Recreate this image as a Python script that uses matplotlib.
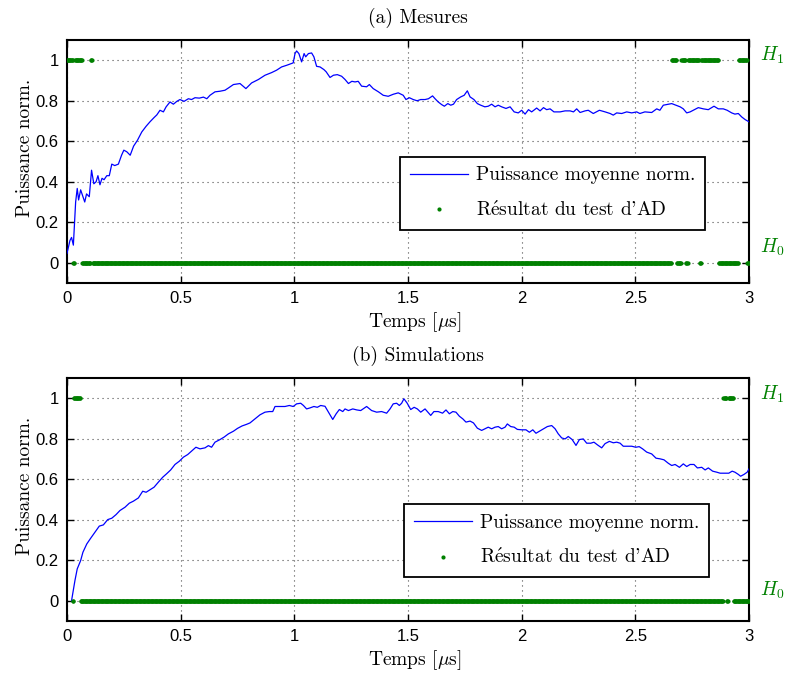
import numpy as np
import matplotlib
matplotlib.use("Agg")
import matplotlib.pyplot as plt

plt.rcParams['mathtext.fontset'] = 'cm'

# ---------------- data ----------------
t_a = [0.000, 0.013, 0.020, 0.028, 0.038, 0.045, 0.051, 0.060, 0.070, 0.078, 0.086, 0.098, 0.108, 0.118, 0.128,
       0.136, 0.145, 0.154, 0.163, 0.175, 0.186, 0.197, 0.210, 0.226, 0.240, 0.250, 0.263, 0.278, 0.293, 0.310,
       0.329, 0.348, 0.365, 0.383, 0.395, 0.409, 0.424, 0.436, 0.453, 0.468, 0.483, 0.497, 0.515, 0.534, 0.548,
       0.563, 0.582, 0.600, 0.615, 0.629, 0.651, 0.673, 0.695, 0.710, 0.732, 0.761, 0.787, 0.812, 0.842, 0.871,
       0.900, 0.922, 0.944, 0.966, 0.995, 1.003, 1.010, 1.020, 1.032, 1.043, 1.050, 1.062, 1.076, 1.086, 1.098,
       1.113, 1.130, 1.140, 1.157, 1.172, 1.189, 1.208, 1.223, 1.238, 1.253, 1.267, 1.281, 1.296, 1.318, 1.330,
       1.347, 1.370, 1.391, 1.413, 1.435, 1.457, 1.479, 1.491, 1.506, 1.523, 1.540, 1.556, 1.575, 1.590, 1.608,
       1.619, 1.633, 1.648, 1.660, 1.675, 1.688, 1.700, 1.714, 1.732, 1.747, 1.761, 1.773, 1.790, 1.805, 1.820,
       1.838, 1.853, 1.868, 1.883, 1.897, 1.912, 1.931, 1.949, 1.967, 1.985, 2.000, 2.015, 2.030, 2.044, 2.066,
       2.081, 2.096, 2.110, 2.125, 2.142, 2.169, 2.191, 2.213, 2.228, 2.242, 2.257, 2.279, 2.293, 2.315, 2.342,
       2.367, 2.389, 2.403, 2.418, 2.440, 2.462, 2.484, 2.506, 2.520, 2.542, 2.572, 2.594, 2.608, 2.623, 2.645,
       2.660, 2.679, 2.697, 2.711, 2.726, 2.741, 2.755, 2.777, 2.799, 2.821, 2.846, 2.865, 2.887, 2.904, 2.924,
       2.938, 2.953, 2.968, 2.983, 3.000]
p_a = [0.046, 0.110, 0.125, 0.087, 0.300, 0.367, 0.310, 0.360, 0.326, 0.300, 0.340, 0.326, 0.457, 0.390, 0.400,
       0.430, 0.385, 0.417, 0.410, 0.430, 0.430, 0.487, 0.480, 0.487, 0.531, 0.556, 0.548, 0.531, 0.576, 0.605,
       0.646, 0.674, 0.696, 0.717, 0.730, 0.753, 0.745, 0.770, 0.794, 0.783, 0.797, 0.806, 0.797, 0.810, 0.806,
       0.815, 0.813, 0.818, 0.810, 0.827, 0.844, 0.847, 0.852, 0.863, 0.880, 0.885, 0.860, 0.888, 0.905, 0.926,
       0.939, 0.951, 0.967, 0.975, 0.987, 1.033, 1.046, 1.033, 0.992, 1.033, 1.017, 1.033, 1.036, 1.017, 0.970,
       0.967, 0.954, 0.943, 0.915, 0.926, 0.929, 0.921, 0.905, 0.885, 0.896, 0.893, 0.896, 0.872, 0.869, 0.880,
       0.860, 0.844, 0.827, 0.822, 0.832, 0.839, 0.827, 0.806, 0.815, 0.806, 0.800, 0.806, 0.806, 0.810, 0.824,
       0.810, 0.794, 0.781, 0.773, 0.786, 0.778, 0.783, 0.806, 0.819, 0.827, 0.849, 0.819, 0.806, 0.786, 0.778,
       0.770, 0.773, 0.783, 0.770, 0.778, 0.770, 0.762, 0.770, 0.745, 0.740, 0.753, 0.734, 0.756, 0.745, 0.764,
       0.750, 0.766, 0.756, 0.760, 0.745, 0.745, 0.750, 0.750, 0.745, 0.760, 0.742, 0.750, 0.753, 0.737, 0.753,
       0.745, 0.737, 0.729, 0.740, 0.737, 0.745, 0.740, 0.745, 0.737, 0.745, 0.742, 0.760, 0.753, 0.778, 0.783,
       0.786, 0.778, 0.770, 0.760, 0.740, 0.745, 0.753, 0.766, 0.760, 0.756, 0.773, 0.760, 0.760, 0.753, 0.740,
       0.734, 0.737, 0.720, 0.707, 0.696]

t_b = [0.020, 0.035, 0.045, 0.060, 0.070, 0.087, 0.104, 0.123, 0.142, 0.160, 0.179, 0.197, 0.216, 0.233, 0.255,
       0.274, 0.292, 0.314, 0.333, 0.348, 0.365, 0.383, 0.402, 0.421, 0.438, 0.456, 0.475, 0.494, 0.512, 0.531,
       0.548, 0.567, 0.585, 0.607, 0.622, 0.636, 0.651, 0.670, 0.691, 0.710, 0.732, 0.750, 0.770, 0.790, 0.805,
       0.827, 0.849, 0.871, 0.890, 0.905, 0.915, 0.937, 0.959, 0.978, 0.995, 1.010, 1.028, 1.040, 1.054, 1.069,
       1.086, 1.101, 1.116, 1.135, 1.150, 1.169, 1.184, 1.198, 1.213, 1.223, 1.238, 1.257, 1.275, 1.292, 1.318,
       1.340, 1.362, 1.384, 1.406, 1.421, 1.435, 1.450, 1.462, 1.472, 1.482, 1.496, 1.512, 1.527, 1.541, 1.556,
       1.575, 1.585, 1.600, 1.614, 1.633, 1.652, 1.667, 1.682, 1.697, 1.711, 1.726, 1.741, 1.755, 1.773, 1.788,
       1.805, 1.824, 1.839, 1.853, 1.868, 1.883, 1.897, 1.912, 1.927, 1.937, 1.952, 1.967, 1.981, 2.000, 2.019,
       2.034, 2.049, 2.063, 2.078, 2.096, 2.113, 2.132, 2.147, 2.161, 2.176, 2.191, 2.205, 2.222, 2.239, 2.254,
       2.271, 2.286, 2.304, 2.318, 2.333, 2.352, 2.367, 2.386, 2.403, 2.418, 2.433, 2.447, 2.465, 2.484, 2.502,
       2.517, 2.532, 2.550, 2.572, 2.591, 2.608, 2.626, 2.645, 2.660, 2.675, 2.694, 2.711, 2.726, 2.741, 2.758,
       2.773, 2.792, 2.807, 2.821, 2.840, 2.858, 2.873, 2.890, 2.911, 2.926, 2.938, 2.953, 2.963, 2.978, 2.992,
       3.000]
p_b = [0.000, 0.100, 0.157, 0.198, 0.239, 0.280, 0.308, 0.338, 0.368, 0.374, 0.400, 0.407, 0.425, 0.445, 0.461,
       0.481, 0.491, 0.507, 0.540, 0.535, 0.547, 0.560, 0.585, 0.609, 0.626, 0.645, 0.672, 0.688, 0.708, 0.721,
       0.738, 0.757, 0.749, 0.754, 0.765, 0.757, 0.782, 0.793, 0.807, 0.823, 0.836, 0.850, 0.862, 0.870, 0.877,
       0.897, 0.917, 0.930, 0.933, 0.933, 0.958, 0.958, 0.958, 0.963, 0.958, 0.971, 0.974, 0.963, 0.946, 0.951,
       0.958, 0.954, 0.963, 0.959, 0.930, 0.894, 0.922, 0.943, 0.933, 0.946, 0.938, 0.946, 0.941, 0.938, 0.958,
       0.938, 0.930, 0.933, 0.925, 0.946, 0.971, 0.974, 0.963, 0.974, 0.996, 0.975, 0.943, 0.954, 0.946, 0.930,
       0.946, 0.933, 0.914, 0.933, 0.933, 0.925, 0.941, 0.922, 0.933, 0.930, 0.910, 0.897, 0.881, 0.886, 0.877,
       0.851, 0.840, 0.848, 0.856, 0.848, 0.856, 0.859, 0.848, 0.856, 0.872, 0.859, 0.856, 0.845, 0.843, 0.843,
       0.831, 0.843, 0.826, 0.836, 0.848, 0.859, 0.864, 0.848, 0.823, 0.803, 0.798, 0.810, 0.795, 0.766, 0.795,
       0.798, 0.777, 0.777, 0.782, 0.769, 0.754, 0.775, 0.786, 0.779, 0.782, 0.777, 0.762, 0.762, 0.762, 0.757,
       0.760, 0.749, 0.733, 0.724, 0.703, 0.700, 0.695, 0.678, 0.667, 0.672, 0.658, 0.675, 0.662, 0.672, 0.672,
       0.655, 0.658, 0.645, 0.655, 0.639, 0.634, 0.629, 0.629, 0.629, 0.639, 0.634, 0.623, 0.614, 0.623, 0.634,
       0.650]

# Anderson-Darling test decisions: time span of the test samples and intervals decided H1
ad_span_a = (0.0, 3.0)
ad_h1_a = [(0.0, 0.027), (0.035, 0.066), (0.104, 0.111), (2.658, 2.682), (2.702, 2.720),
           (2.732, 2.782), (2.789, 2.866), (2.955, 2.990)]
ad_span_b = (0.025, 3.0)
ad_h1_b = [(0.029, 0.058), (2.885, 2.902), (2.909, 2.930)]
ad_step = 0.0025

titles = ["(a) Mesures", "(b) Simulations"]
legend_labels = ["Puissance moyenne norm.", "R$\\mathrm{\\acute{e}}$sultat du test d'AD"]
xticks = [0, 0.5, 1, 1.5, 2, 2.5, 3]
xtick_labels = ["0", "0.5", "1", "1.5", "2", "2.5", "3"]
yticks = [0, 0.2, 0.4, 0.6, 0.8, 1]
ytick_labels = ["0", "0.2", "0.4", "0.6", "0.8", "1"]


def ad_series(span, h1):
    t = np.arange(span[0], span[1] + 1e-9, ad_step)
    d = np.zeros_like(t)
    for a, b in h1:
        d[(t >= a) & (t <= b)] = 1.0
    return t, d


SERIF = ['cmr10', 'DejaVu Serif']
SANS = ['Liberation Sans', 'DejaVu Sans']
GREEN = '#008000'
FS = 14

fig = plt.figure(figsize=(7.91, 6.75), dpi=100)
W, H = 791, 675
rects = [(67, 40, 749, 283), (67, 377.7, 749, 621)]
panels = [(t_a, p_a, ad_span_a, ad_h1_a), (t_b, p_b, ad_span_b, ad_h1_b)]
legend_boxes = [(0.488, 0.52), (0.494, 0.481)]
h_pos = [(1.0, 0.05), (0.99, 0.025)]

for i, (rect, (tt, pp, span, h1)) in enumerate(zip(rects, panels)):
    x0, y0, x1, y1 = rect
    ax = fig.add_axes([x0 / W, 1 - y1 / H, (x1 - x0) / W, (y1 - y0) / H])
    ax.plot(tt, pp, color='#0000FF', lw=0.9, label=legend_labels[0], zorder=3)
    td, dd = ad_series(span, h1)
    ax.plot(td, dd, linestyle='none', marker='o', markersize=3.0, mew=0, color=GREEN,
            label=legend_labels[1], zorder=4)
    ax.set_xlim(0, 3)
    ax.set_ylim(-0.1, 1.1)
    ax.set_xticks(xticks)
    ax.set_xticklabels(xtick_labels, fontfamily=SANS, fontsize=12)
    ax.set_yticks(yticks)
    ax.set_yticklabels(ytick_labels, fontfamily=SANS, fontsize=12)
    ax.tick_params(direction='in', top=True, right=True, length=5, width=1, pad=6)
    for s in ax.spines.values():
        s.set_linewidth(1.5)
    ax.grid(True, linestyle=(0, (1, 3.5)), color='0.3', lw=0.8)
    ax.set_axisbelow(True)

    ax.set_xlabel("Temps [$\\mu$s]", fontfamily=SERIF, fontsize=FS)
    ax.xaxis.set_label_coords(0.51, -39 / 243)
    ax.xaxis.label.set_va('center')
    ax.set_ylabel("Puissance norm.", fontfamily=SERIF, fontsize=FS)
    ax.yaxis.set_label_coords(-0.062, 0.555)
    ax.yaxis.label.set_va('center')
    ax.yaxis.label.set_ha('center')
    ax.text(0.515, 1 + 22 / 243, titles[i], transform=ax.transAxes, ha='center', va='center',
            fontfamily=SERIF, fontsize=FS)

    hy1, hy0 = h_pos[i]
    trans = ax.get_yaxis_transform()
    ax.text(1.016, hy1, "$H_1$", transform=trans, color=GREEN, fontsize=14, va='baseline', ha='left')
    ax.text(1.016, hy0, "$H_0$", transform=trans, color=GREEN, fontsize=14, va='baseline', ha='left')

    lx, ly = legend_boxes[i]
    leg = ax.legend(loc='upper left', bbox_to_anchor=(lx, ly), borderaxespad=0,
                    prop={'family': SERIF, 'size': FS}, handlelength=3.0, handletextpad=0.4,
                    labelspacing=0.85, borderpad=0.5, fancybox=False, framealpha=1,
                    edgecolor='black', markerscale=1.0)
    leg.get_frame().set_linewidth(1.3)

fig.savefig("out.png", dpi=100)
